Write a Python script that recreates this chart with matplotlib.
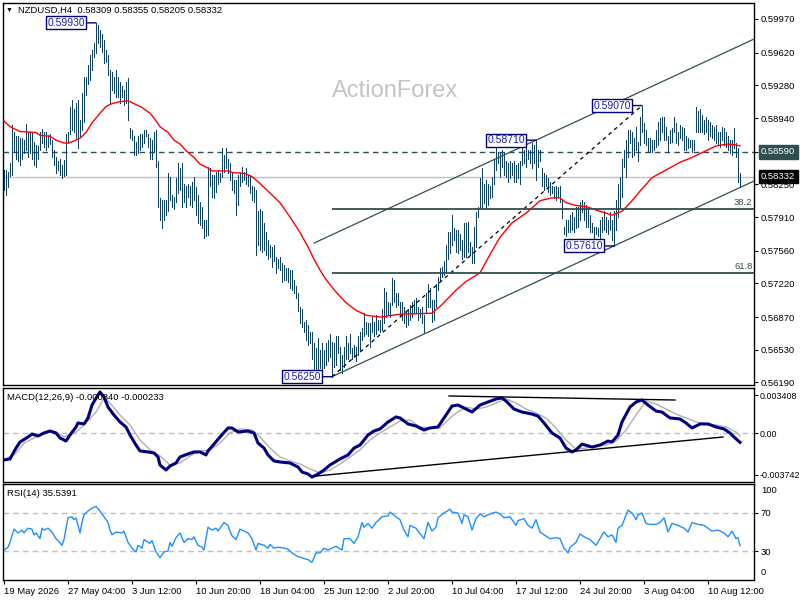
import numpy as np
import matplotlib
matplotlib.use('Agg')
import matplotlib.pyplot as plt

plt.rcParams['font.family'] = ['Liberation Sans', 'DejaVu Sans']

TITLE = 'NZDUSD,H4  0.58309 0.58355 0.58205 0.58332'
MACD_TITLE = 'MACD(12,26,9) -0.000840 -0.000233'
RSI_TITLE = 'RSI(14) 35.5391'
WATERMARK = 'ActionForex'

HIGH = [0.5840,0.5840,0.5838,0.5847,0.5887,0.5879,0.5875,0.5875,0.5873,0.5873,
 0.5871,0.5888,0.5879,0.5880,0.5879,0.5869,0.5866,0.5865,0.5880,0.5883,
 0.5879,0.5879,0.5876,0.5877,0.5871,0.5861,0.5854,0.5849,0.5851,0.5845,
 0.5850,0.5877,0.5879,0.5905,0.5913,0.5903,0.5910,0.5913,0.5892,0.5920,
 0.5937,0.5937,0.5949,0.5960,0.5965,0.5972,0.5993,0.5991,0.5986,0.5981,
 0.5975,0.5965,0.5960,0.5944,0.5942,0.5937,0.5944,0.5937,0.5931,0.5927,
 0.5923,0.5932,0.5936,0.5884,0.5882,0.5875,0.5869,0.5875,0.5877,0.5877,
 0.5882,0.5882,0.5877,0.5873,0.5871,0.5879,0.5882,0.5849,0.5811,0.5809,
 0.5809,0.5809,0.5837,0.5833,0.5814,0.5812,0.5832,0.5847,0.5842,0.5847,
 0.5825,0.5823,0.5825,0.5823,0.5827,0.5833,0.5822,0.5814,0.5807,0.5801,
 0.5788,0.5788,0.5843,0.5842,0.5835,0.5835,0.5838,0.5840,0.5837,0.5863,
 0.5856,0.5863,0.5851,0.5847,0.5837,0.5830,0.5830,0.5835,0.5837,0.5843,
 0.5838,0.5842,0.5835,0.5835,0.5823,0.5822,0.5819,0.5797,0.5799,0.5797,
 0.5785,0.5776,0.5767,0.5762,0.5760,0.5762,0.5750,0.5747,0.5749,0.5743,
 0.5741,0.5738,0.5738,0.5736,0.5736,0.5726,0.5719,0.5712,0.5697,0.5695,
 0.5682,0.5684,0.5679,0.5672,0.5672,0.5660,0.5655,0.5665,0.5653,0.5660,
 0.5653,0.5660,0.5663,0.5669,0.5661,0.5660,0.5667,0.5667,0.5656,0.5648,
 0.5656,0.5667,0.5660,0.5669,0.5655,0.5658,0.5656,0.5667,0.5672,0.5676,
 0.5691,0.5682,0.5681,0.5681,0.5687,0.5682,0.5689,0.5684,0.5684,0.5695,
 0.5717,0.5713,0.5703,0.5702,0.5728,0.5726,0.5712,0.5712,0.5703,0.5703,
 0.5698,0.5693,0.5695,0.5700,0.5703,0.5705,0.5707,0.5698,0.5695,0.5698,
 0.5689,0.5712,0.5721,0.5717,0.5705,0.5705,0.5721,0.5729,0.5738,0.5739,
 0.5745,0.5762,0.5775,0.5775,0.5793,0.5780,0.5778,0.5778,0.5773,0.5767,
 0.5785,0.5785,0.5786,0.5765,0.5760,0.5781,0.5796,0.5802,0.5832,0.5842,
 0.5825,0.5830,0.5825,0.5823,0.5833,0.5851,0.5863,0.5859,0.5859,0.5861,
 0.5859,0.5849,0.5847,0.5849,0.5847,0.5849,0.5845,0.5847,0.5849,0.5866,
 0.5861,0.5863,0.5861,0.5861,0.5868,0.5866,0.5871,0.5861,0.5861,0.5842,
 0.5837,0.5835,0.5832,0.5828,0.5823,0.5822,0.5823,0.5822,0.5823,0.5809,
 0.5781,0.5788,0.5788,0.5793,0.5796,0.5791,0.5801,0.5802,0.5807,0.5809,
 0.5807,0.5804,0.5801,0.5793,0.5785,0.5781,0.5781,0.5780,0.5788,0.5791,
 0.5797,0.5791,0.5788,0.5796,0.5788,0.5797,0.5809,0.5825,0.5833,0.5851,
 0.5861,0.5871,0.5882,0.5882,0.5879,0.5873,0.5885,0.5869,0.5895,0.5907,
 0.5889,0.5882,0.5873,0.5873,0.5871,0.5871,0.5882,0.5890,0.5894,0.5895,
 0.5895,0.5885,0.5875,0.5882,0.5884,0.5895,0.5889,0.5880,0.5887,0.5885,
 0.5884,0.5875,0.5873,0.5871,0.5871,0.5871,0.5906,0.5901,0.5903,0.5897,
 0.5892,0.5895,0.5892,0.5890,0.5887,0.5885,0.5887,0.5880,0.5879,0.5885,
 0.5884,0.5879,0.5875,0.5871,0.5871,0.5884,0.5868,0.5863,0.5837]

LOW = [0.5819,0.5814,0.5822,0.5834,0.5835,0.5859,0.5851,0.5849,0.5845,0.5851,
 0.5858,0.5861,0.5854,0.5858,0.5851,0.5845,0.5843,0.5851,0.5861,0.5868,
 0.5864,0.5861,0.5864,0.5867,0.5854,0.5845,0.5837,0.5840,0.5835,0.5832,
 0.5834,0.5835,0.5868,0.5877,0.5882,0.5879,0.5873,0.5863,0.5875,0.5882,
 0.5890,0.5918,0.5929,0.5934,0.5944,0.5958,0.5962,0.5972,0.5968,0.5963,
 0.5951,0.5952,0.5939,0.5910,0.5923,0.5920,0.5916,0.5916,0.5910,0.5916,
 0.5908,0.5910,0.5892,0.5873,0.5871,0.5856,0.5856,0.5858,0.5861,0.5864,
 0.5868,0.5875,0.5864,0.5851,0.5851,0.5859,0.5843,0.5801,0.5788,0.5780,
 0.5788,0.5793,0.5797,0.5809,0.5802,0.5799,0.5807,0.5816,0.5819,0.5801,
 0.5807,0.5802,0.5812,0.5804,0.5801,0.5809,0.5793,0.5785,0.5783,0.5780,
 0.5769,0.5771,0.5772,0.5823,0.5812,0.5811,0.5817,0.5825,0.5827,0.5833,
 0.5838,0.5842,0.5837,0.5830,0.5819,0.5816,0.5793,0.5804,0.5823,0.5827,
 0.5830,0.5825,0.5823,0.5816,0.5809,0.5807,0.5752,0.5762,0.5757,0.5755,
 0.5757,0.5752,0.5747,0.5749,0.5739,0.5745,0.5733,0.5738,0.5736,0.5723,
 0.5726,0.5726,0.5723,0.5717,0.5715,0.5712,0.5707,0.5693,0.5681,0.5677,
 0.5671,0.5663,0.5658,0.5660,0.5643,0.5630,0.5632,0.5630,0.5634,0.5632,
 0.5634,0.5637,0.5641,0.5646,0.5625,0.5635,0.5637,0.5650,0.5632,0.5629,
 0.5635,0.5643,0.5643,0.5650,0.5643,0.5646,0.5641,0.5648,0.5653,0.5663,
 0.5667,0.5669,0.5667,0.5656,0.5672,0.5667,0.5669,0.5674,0.5671,0.5674,
 0.5681,0.5687,0.5689,0.5687,0.5700,0.5703,0.5697,0.5700,0.5689,0.5684,
 0.5681,0.5677,0.5679,0.5684,0.5687,0.5691,0.5691,0.5684,0.5687,0.5681,
 0.5672,0.5691,0.5697,0.5698,0.5682,0.5684,0.5698,0.5715,0.5726,0.5729,
 0.5731,0.5733,0.5747,0.5754,0.5762,0.5767,0.5755,0.5754,0.5757,0.5747,
 0.5749,0.5750,0.5755,0.5752,0.5743,0.5743,0.5760,0.5791,0.5801,0.5801,
 0.5806,0.5802,0.5804,0.5811,0.5812,0.5825,0.5840,0.5847,0.5833,0.5843,
 0.5835,0.5833,0.5828,0.5832,0.5835,0.5828,0.5827,0.5832,0.5825,0.5845,
 0.5847,0.5843,0.5851,0.5847,0.5842,0.5847,0.5830,0.5843,0.5849,0.5823,
 0.5819,0.5823,0.5817,0.5814,0.5816,0.5811,0.5809,0.5812,0.5807,0.5790,
 0.5773,0.5771,0.5775,0.5776,0.5778,0.5776,0.5780,0.5781,0.5788,0.5796,
 0.5788,0.5781,0.5781,0.5776,0.5775,0.5769,0.5773,0.5771,0.5769,0.5775,
 0.5778,0.5775,0.5773,0.5778,0.5767,0.5761,0.5778,0.5791,0.5802,0.5812,
 0.5843,0.5833,0.5854,0.5868,0.5853,0.5856,0.5861,0.5849,0.5866,0.5879,
 0.5868,0.5866,0.5859,0.5859,0.5859,0.5861,0.5864,0.5866,0.5871,0.5879,
 0.5871,0.5871,0.5859,0.5868,0.5869,0.5879,0.5868,0.5866,0.5873,0.5871,
 0.5861,0.5861,0.5863,0.5864,0.5859,0.5861,0.5880,0.5879,0.5880,0.5879,
 0.5877,0.5879,0.5871,0.5875,0.5873,0.5871,0.5868,0.5866,0.5864,0.5871,
 0.5866,0.5864,0.5861,0.5858,0.5856,0.5863,0.5854,0.5827,0.5822]

MA_I = [0,3,8,16,18,23,26,30,32,35,38,41,44,48,51,54,58,62,65,69,73,75,78,82,85,88,91,95,98,102,
        104,108,112,115,118,121,124,128,131,133,138,143,148,152,155,158,161,166,171,176,181,188,198,214,219,226,231,238,243,248,
        254,261,268,274,278,281,286,291,298,304,309,314,318,324,331,338,344,350,356,362,366,368]
MA_V = [0.5891,0.5885,0.5880,0.5879,0.5876,0.5875,0.5871,0.5868,0.5868,0.5870,0.5873,0.5879,0.5889,0.5899,0.5906,0.5909,0.5911,0.5912,0.5909,0.5905,
        0.5899,0.5894,0.5885,0.5879,0.5871,0.5867,0.5860,0.5853,0.5846,0.5842,0.5839,0.5839,0.5839,0.5837,0.5837,0.5836,0.5833,0.5826,0.5820,0.5816,
        0.5806,0.5791,0.5775,0.5760,0.5747,0.5736,0.5726,0.5713,0.5702,0.5694,0.5689,0.5687,0.5690,0.5691,0.5700,0.5715,0.5724,0.5733,0.5752,0.5770,
        0.5785,0.5795,0.5808,0.5811,0.5811,0.5806,0.5803,0.5802,0.5797,0.5793,0.5797,0.5808,0.5818,0.5832,0.5840,0.5848,0.5853,0.5859,0.5865,0.5867,
        0.5866,0.5865]

MACD_I = [0,3,6,8,12,14,17,20,23,26,28,31,33,36,37,40,42,44,47,48,50,52,55,58,61,63,66,68,72,75,
          77,78,81,83,86,88,92,95,98,101,102,105,108,112,114,117,122,125,127,130,132,135,138,143,147,149,152,154,157,160,
          163,168,172,175,178,182,185,188,192,196,198,202,206,210,213,217,222,224,227,230,234,238,242,246,249,251,255,259,264,267,
          270,274,278,281,284,286,289,294,298,302,304,307,309,313,316,319,322,326,329,333,338,341,344,348,352,356,360,363,365,368]
MACD_V = [-0.00242,-0.00233,-0.00135,-0.00081,-0.00036,-0.00009,-0.00027,0.0,0.00018,0.0,
          -0.00045,-0.00072,-0.00018,0.00054,0.00090,0.00081,0.00135,0.00251,0.00341,0.00368,
          0.00323,0.00233,0.00161,0.00099,0.00054,-0.00018,-0.00108,-0.00161,-0.00170,-0.00179,
          -0.00215,-0.00287,-0.00332,-0.00296,-0.00269,-0.00215,-0.00188,-0.00170,-0.00170,-0.00197,
          -0.00161,-0.00099,-0.00036,0.00045,0.00045,0.00009,0.00018,0.0,-0.00090,-0.00135,
          -0.00197,-0.00251,-0.00260,-0.00269,-0.00305,-0.00350,-0.00368,-0.00395,-0.00368,-0.00332,
          -0.00287,-0.00233,-0.00197,-0.00135,-0.00108,-0.00018,0.00018,0.00036,0.00099,0.00144,
          0.00135,0.00081,0.00063,0.00027,0.00045,0.00054,0.00188,0.00242,0.00251,0.00224,
          0.00188,0.00251,0.00278,0.00305,0.00314,0.00287,0.00215,0.00188,0.00170,0.00152,
          0.00090,0.0,-0.00045,-0.00135,-0.00170,-0.00152,-0.00099,-0.00126,-0.00108,-0.00072,
          -0.00081,-0.00018,0.00099,0.00233,0.00278,0.00296,0.00251,0.00197,0.00188,0.00135,
          0.00126,0.00090,0.00045,0.00081,0.00081,0.00054,0.00036,0.0,-0.00036,-0.00084]

SIG_I = [0,6,10,16,20,26,30,36,40,46,50,53,58,63,68,73,78,83,88,93,98,103,108,113,118,124,128,133,138,143,
         148,153,158,163,168,173,178,183,188,193,198,203,208,213,218,222,226,231,236,241,246,251,256,261,266,271,276,281,286,291,
         296,301,306,311,316,321,326,331,336,341,346,351,356,361,366,368]
SIG_V = [-0.00242,-0.00179,-0.00090,-0.00036,0.00009,0.00009,-0.00036,0.00009,0.00072,0.00188,
         0.00314,0.00269,0.00161,0.00072,-0.00063,-0.00152,-0.00206,-0.00287,-0.00269,-0.00206,
         -0.00161,-0.00152,-0.00090,0.0,0.00036,0.00027,-0.00036,-0.00135,-0.00215,-0.00251,
         -0.00278,-0.00323,-0.00359,-0.00332,-0.00278,-0.00215,-0.00152,-0.00063,0.0,0.00054,
         0.00108,0.00117,0.00054,0.00045,0.00045,0.00117,0.00179,0.00233,0.00215,0.00233,
         0.00269,0.00305,0.00269,0.00215,0.00179,0.00135,0.00045,-0.00063,-0.00144,-0.00135,
         -0.00117,-0.00108,-0.00072,0.00027,0.00161,0.00287,0.00260,0.00215,0.00170,0.00135,
         0.00099,0.00081,0.00072,0.00054,0.00009,-0.000233]

RSI_I = [0,2,3,5,6,7,9,10,12,14,15,16,18,19,20,22,24,26,27,29,30,32,34,35,36,38,39,40,42,44,
         46,48,50,52,53,54,56,59,60,62,64,66,67,69,70,73,74,76,78,80,82,83,84,86,88,90,92,94,95,97,
         99,100,102,104,106,107,110,112,113,114,116,118,120,122,124,126,127,130,132,133,135,137,140,142,144,147,149,150,152,154,
         156,158,160,162,164,166,169,170,173,175,177,179,180,182,184,186,189,192,193,196,198,200,202,203,206,207,210,212,214,216,
         217,220,223,224,227,229,230,232,234,236,238,240,243,246,248,250,253,256,257,260,262,264,266,268,270,273,276,278,280,282,
         283,286,288,290,293,296,298,300,302,304,306,307,309,312,314,316,317,319,321,323,326,328,330,332,334,337,340,342,344,347,
         350,352,354,357,360,362,364,366,367,368]
RSI_V = [31,34,39,53,51,49,52,49,54,53,47,49,43,54,52,54,50,43,41,36,42,65,66,63,65,49,60,68,72,75,
         77,72,66,60,52,47,50,49,51,39,33,29,36,33,42,38,41,29,23,29,30,39,35,44,49,39,43,42,45,36,
         34,31,55,52,54,51,60,57,51,46,42,53,51,49,43,31,38,36,33,37,33,34,33,32,28,24,23,22,21,18,
         28,28,33,31,33,35,31,43,43,38,45,60,55,59,54,60,66,67,71,66,63,52,45,57,54,51,43,60,51,55,
         65,70,74,71,70,59,68,66,52,64,69,66,69,71,69,65,66,57,62,64,57,54,63,50,47,43,44,43,33,28,
         34,39,48,45,42,36,43,50,45,47,39,54,57,73,70,63,68,70,59,58,58,60,65,50,59,57,54,50,60,58,
         57,54,51,52,49,45,51,43,44,35.5391]

DATE_IDX = [0,32,64,96,128,160,192,224,256,288,320,352]
DATE_LABELS = ['19 May 2026','27 May 04:00','3 Jun 12:00','10 Jun 20:00','18 Jun 04:00','25 Jun 12:00',
               '2 Jul 20:00','10 Jul 04:00','17 Jul 12:00','24 Jul 20:00','3 Aug 04:00','10 Aug 12:00']
PRICE_TICKS = [0.59970,0.59620,0.59280,0.58940,0.58590,0.58250,0.57910,0.57560,0.57220,0.56870,0.56530,0.56190]

SWING_IDX = [46, 164, 266, 305, 319]
SWING_PRICE = [0.59930, 0.56250, 0.58710, 0.57610, 0.59070]

CH_LOW_A = (164, 0.5625)
CH_LOW_B = (305, 0.5761)
CH_UP = (266, 0.5871)
CH_UP_START = 155
FIB_LOW = (164, 0.5625)
FIB_HIGH = (319, 0.5907)
FIB_RATIOS = [38.2, 61.8]
LAST_PRICE = 0.58332
REF_LEVEL = 0.58590

MACD_TICKS = [0.003408, 0.0, -0.003742]
MACD_TICK_LABELS = ['0.003408', '0.00', '-0.003742']
MACD_TL_LOW = ([156, 359.5], [-0.00386, -0.00036])
MACD_TL_HIGH = ([222.5, 335.5], [0.00332, 0.00296])
RSI_LEVELS = [70, 30]

W, H = 800, 600
def fbox(x0, y0, x1, y1):
    return [x0 / W, 1 - y1 / H, (x1 - x0) / W, (y1 - y0) / H]

BAR_C = '#0f4262'
SLATE = '#2f4f4f'
FS = 6.8
XMAX = 375

fig = plt.figure(figsize=(8, 6), dpi=100, facecolor='white')
ax = fig.add_axes(fbox(3, 3, 754, 385))
ax2 = fig.add_axes(fbox(3, 388, 754, 482))
ax3 = fig.add_axes(fbox(3, 484, 754, 580))

for a in (ax, ax2, ax3):
    a.set_xlim(-0.5, XMAX)
    for s in a.spines.values():
        s.set_color('black')
        s.set_linewidth(1)
    a.yaxis.tick_right()
    a.tick_params(axis='y', direction='out', length=3, labelsize=FS, pad=2, colors='black')
    a.set_xticks([])

# ---- main price panel ----
ax.set_ylim(0.561636, 0.601364)
idx = np.arange(len(HIGH))
ax.text(0.522, 0.77, WATERMARK, transform=ax.transAxes, fontsize=17, color='#c4c4c4',
        ha='center', va='center', zorder=0)
ax.axhline(LAST_PRICE, color='#c0c0c0', lw=1, zorder=1)
ax.axhline(REF_LEVEL, color=SLATE, lw=1, ls=(0, (4, 3)), zorder=1.5)
ax.vlines(idx, LOW, HIGH, colors=BAR_C, lw=0.7, zorder=2, antialiased=False)
ax.plot(MA_I, MA_V, color='red', lw=1, zorder=3)

slope = (CH_LOW_B[1] - CH_LOW_A[1]) / (CH_LOW_B[0] - CH_LOW_A[0])
ax.plot([CH_LOW_A[0], XMAX], [CH_LOW_A[1], CH_LOW_A[1] + slope * (XMAX - CH_LOW_A[0])],
        color=SLATE, lw=0.9, zorder=3)
ax.plot([CH_UP_START, XMAX], [CH_UP[1] + slope * (CH_UP_START - CH_UP[0]), CH_UP[1] + slope * (XMAX - CH_UP[0])],
        color=SLATE, lw=0.9, zorder=3)

ax.plot([FIB_LOW[0], FIB_HIGH[0]], [FIB_LOW[1], FIB_HIGH[1]], color='black', lw=0.9,
        ls=(0, (3, 3)), zorder=3)
for r in FIB_RATIOS:
    lvl = FIB_HIGH[1] - (FIB_HIGH[1] - FIB_LOW[1]) * r / 100.0
    ax.hlines(lvl, FIB_LOW[0], XMAX, color=SLATE, lw=1.3, zorder=3)
    ax.annotate(f'{r:.1f}', xy=(0.998, lvl), xycoords=('axes fraction', 'data'),
                xytext=(0, 1.5), textcoords='offset points', ha='right', va='bottom',
                fontsize=FS, color=SLATE)

for i, p in zip(SWING_IDX, SWING_PRICE):
    ax.annotate(f'{p:.5f}', xy=(i, p), xytext=(-8, 0), textcoords='offset points',
                ha='right', va='center', fontsize=7.5, color='#1c1cb0', zorder=6,
                bbox=dict(boxstyle='square,pad=0.15', fc='white', ec='#000080', lw=1),
                arrowprops=dict(arrowstyle='-', color='#000080', lw=1, shrinkA=0, shrinkB=0))

ax.set_yticks(PRICE_TICKS)
ax.set_yticklabels([f'{v:.5f}' for v in PRICE_TICKS])
ax.annotate(f'{REF_LEVEL:.5f}', xy=(1, REF_LEVEL), xycoords=('axes fraction', 'data'),
            xytext=(5, 0), textcoords='offset points', ha='left', va='center', fontsize=FS,
            color='white', annotation_clip=False, zorder=10,
            bbox=dict(boxstyle='square,pad=0.25', fc=SLATE, ec=SLATE))
ax.annotate(f'{LAST_PRICE:.5f}', xy=(1, LAST_PRICE), xycoords=('axes fraction', 'data'),
            xytext=(5, 0), textcoords='offset points', ha='left', va='center', fontsize=FS,
            color='white', annotation_clip=False, zorder=10,
            bbox=dict(boxstyle='square,pad=0.25', fc='black', ec='black'))

# ---- MACD panel ----
ax2.set_ylim(-0.004395, 0.004037)
ax2.axhline(0, color='#c0c0c0', lw=1, ls=(0, (4, 3)), zorder=1)
ax2.plot(SIG_I, SIG_V, color='#b0b0b0', lw=1, zorder=2)
ax2.plot(MACD_I, MACD_V, color='#000080', lw=2.2, zorder=3, solid_joinstyle='round')
ax2.plot(MACD_TL_LOW[0], MACD_TL_LOW[1], color='black', lw=1, zorder=4)
ax2.plot(MACD_TL_HIGH[0], MACD_TL_HIGH[1], color='black', lw=1, zorder=4)
ax2.set_yticks(MACD_TICKS)
ax2.set_yticklabels(MACD_TICK_LABELS)
ax2.tick_params(axis='y', labelsize=6.4, pad=1)

# ---- RSI panel ----
ax3.set_ylim(-0.5, 100.5)
for lv in RSI_LEVELS:
    ax3.axhline(lv, color='#c0c0c0', lw=1, ls=(0, (4, 3)), zorder=1)
ax3.plot(RSI_I, RSI_V, color='#1e90ff', lw=1, zorder=2)
ax3.set_yticks(RSI_LEVELS)
ax3.set_yticklabels([str(v) for v in RSI_LEVELS])
ax3.annotate('100', xy=(1, 100), xycoords=('axes fraction', 'data'), xytext=(5, -1),
             textcoords='offset points', ha='left', va='top', fontsize=FS, annotation_clip=False)
ax3.annotate('0', xy=(1, 0), xycoords=('axes fraction', 'data'), xytext=(5, 1.5),
             textcoords='offset points', ha='left', va='bottom', fontsize=FS, annotation_clip=False)
ax3.set_xticks(DATE_IDX)
ax3.set_xticklabels(DATE_LABELS)
ax3.tick_params(axis='x', direction='out', length=3, labelsize=FS, pad=2)
for t in ax3.get_xticklabels():
    t.set_ha('left')

# ---- titles ----
fig.text(9.5 / W, 1 - 10 / H, '▼', fontsize=5, ha='center', va='center', color='black')
fig.text(18 / W, 1 - 10 / H, TITLE, fontsize=FS, ha='left', va='center', color='black')
fig.text(7 / W, 1 - 397 / H, MACD_TITLE, fontsize=FS, ha='left', va='center', color='black')
fig.text(7 / W, 1 - 493 / H, RSI_TITLE, fontsize=FS, ha='left', va='center', color='black')

fig.savefig('out.png', dpi=100, facecolor='white')
